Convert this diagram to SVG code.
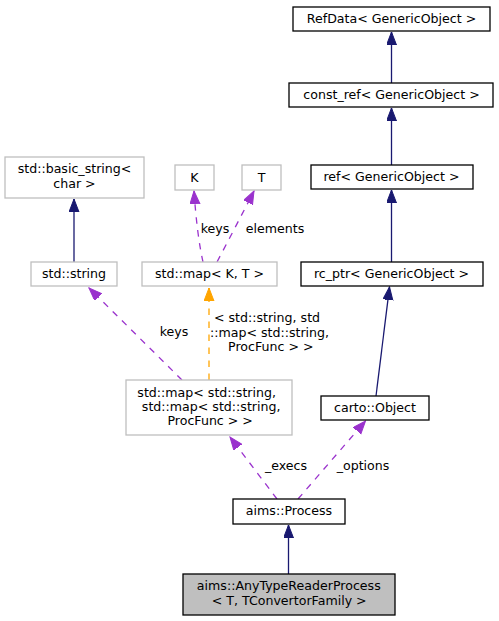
<svg xmlns="http://www.w3.org/2000/svg" width="499" height="621" viewBox="0 0 499 621">
<style>
  text { font-family: "DejaVu Sans", "Noto Sans", sans-serif; font-size: 12.6px; fill: #000; text-anchor: middle; }
  .grey { fill: #fff; stroke: #bfbfbf; stroke-width: 1.3; }
  .blk { fill: #fff; stroke: #000; stroke-width: 1.3; }
  .hl { fill: #bfbfbf; stroke: #000; stroke-width: 1.3; }
  .inh { fill: none; stroke: #191970; stroke-width: 1.3; }
  .use { fill: none; stroke: #9a32cd; stroke-width: 1.3; stroke-dasharray: 6.5,6.5; }
  .tpl { fill: none; stroke: #ffa500; stroke-width: 1.3; stroke-dasharray: 6.5,6.5; }
</style>
<defs>
  <marker id="aNavy" markerUnits="userSpaceOnUse" markerWidth="14" markerHeight="11" refX="13" refY="5" orient="auto">
    <polygon points="0,0 13,5 0,10" fill="#191970" stroke="#191970" stroke-width="1"/>
  </marker>
  <marker id="aPurple" markerUnits="userSpaceOnUse" markerWidth="14" markerHeight="11" refX="13" refY="5" orient="auto">
    <polygon points="0,0 13,5 0,10" fill="#9a32cd" stroke="#9a32cd" stroke-width="1"/>
  </marker>
  <marker id="aOrange" markerUnits="userSpaceOnUse" markerWidth="14" markerHeight="11" refX="13" refY="5" orient="auto">
    <polygon points="0,0 13,5 0,10" fill="#ffa500" stroke="#ffa500" stroke-width="1"/>
  </marker>
</defs>

<g id="connectors">
  <path class="inh" d="M391.5,83 L391.5,32" marker-end="url(#aNavy)"/>
  <path class="inh" d="M391.5,165 L391.5,108" marker-end="url(#aNavy)"/>
  <path class="inh" d="M391.5,262 L391.5,190" marker-end="url(#aNavy)"/>
  <path class="inh" d="M376,396 L389.5,287" marker-end="url(#aNavy)"/>
  <path class="inh" d="M74,262 L74,199" marker-end="url(#aNavy)"/>
  <path class="inh" d="M288.5,574 L288.5,525" marker-end="url(#aNavy)"/>
  <path class="use" d="M203,262 Q197,235 194,191" marker-end="url(#aPurple)"/>
  <path class="use" d="M217,262 Q236,226 254,191" marker-end="url(#aPurple)"/>
  <path class="use" d="M182,380 L89,288" marker-end="url(#aPurple)"/>
  <path class="tpl" d="M209,380 L209,288" marker-end="url(#aOrange)"/>
  <path class="use" d="M277,499 L230,437" marker-end="url(#aPurple)"/>
  <path class="use" d="M298,499 L365.5,421" marker-end="url(#aPurple)"/>
  <text x="215" y="233">keys</text>
  <text x="275" y="233">elements</text>
  <text x="174" y="336">keys</text>
  <text x="267" y="322">&lt; std::string, std</text>
  <text x="269.5" y="337">::map&lt; std::string,</text>
  <text x="270.8" y="351">ProcFunc &gt; &gt;</text>
  <text x="286" y="470">_execs</text>
  <text x="363" y="470">_options</text>
</g>

<g id="node_refdata">
  <rect class="blk" x="293" y="7" width="197" height="24"/>
  <text x="391.5" y="23">RefData&lt; GenericObject &gt;</text>
</g>
<g id="node_const_ref">
  <rect class="blk" x="289" y="83" width="204" height="24"/>
  <text x="391.5" y="99">const_ref&lt; GenericObject &gt;</text>
</g>
<g id="node_ref">
  <rect class="blk" x="311" y="165" width="162" height="24"/>
  <text x="391.5" y="181">ref&lt; GenericObject &gt;</text>
</g>
<g id="node_rc_ptr">
  <rect class="blk" x="301" y="262" width="182" height="24"/>
  <text x="391.5" y="278">rc_ptr&lt; GenericObject &gt;</text>
</g>
<g id="node_carto_object">
  <rect class="blk" x="321" y="396" width="108" height="24"/>
  <text x="375" y="412">carto::Object</text>
</g>
<g id="node_basic_string">
  <rect class="grey" x="5" y="157" width="139" height="41"/>
  <text x="74.5" y="173">std::basic_string&lt;</text>
  <text x="74.5" y="188">char &gt;</text>
</g>
<g id="node_K">
  <rect class="grey" x="175" y="165" width="39" height="25"/>
  <text x="194.5" y="182">K</text>
</g>
<g id="node_T">
  <rect class="grey" x="242" y="165" width="39" height="25"/>
  <text x="261.5" y="182">T</text>
</g>
<g id="node_std_string">
  <rect class="grey" x="31" y="262" width="86" height="24"/>
  <text x="74" y="278">std::string</text>
</g>
<g id="node_map_KT">
  <rect class="grey" x="142" y="262" width="135" height="24"/>
  <text x="209.5" y="278">std::map&lt; K, T &gt;</text>
</g>
<g id="node_map_string">
  <rect class="grey" x="126" y="380" width="166" height="55"/>
  <text x="206.7" y="397">std::map&lt; std::string,</text>
  <text x="211.2" y="411">std::map&lt; std::string,</text>
  <text x="210.2" y="425">ProcFunc &gt; &gt;</text>
</g>
<g id="node_process">
  <rect class="blk" x="233" y="499" width="112" height="25"/>
  <text x="289" y="515">aims::Process</text>
</g>
<g id="node_anytype">
  <rect class="hl" x="183" y="574" width="212" height="41"/>
  <text x="288.8" y="590">aims::AnyTypeReaderProcess</text>
  <text x="289.2" y="605">&lt; T, TConvertorFamily &gt;</text>
</g>
</svg>
